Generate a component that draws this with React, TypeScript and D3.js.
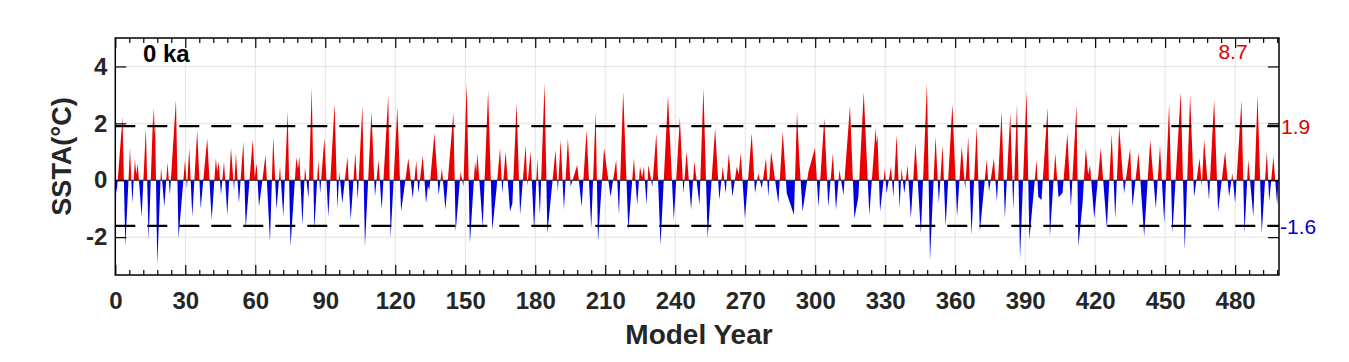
import React, { useEffect, useRef } from 'react';
import * as d3 from 'd3';

// turning points of the SSTA series (model year, °C)
const knotYears = [
  0.0, 0.6, 3.1, 4.3, 6.3, 7.3, 8.4, 9.0, 9.6, 11.3, 13.1, 14.3, 16.3, 16.7, 17.0, 18.0, 19.6, 21.0, 22.4, 23.4,
  26.0, 27.1, 29.9, 30.7, 31.7, 33.0, 35.1, 36.6, 39.4, 41.3, 43.1, 43.7, 44.3, 45.3, 46.6, 48.0, 49.6, 50.9, 51.7, 53.0,
  54.9, 55.9, 58.9, 59.8, 60.6, 61.6, 64.4, 66.3, 67.7, 69.1, 70.6, 72.0, 73.9, 75.1, 77.6, 78.3, 78.9, 80.2, 81.3, 82.8,
  84.2, 85.3, 87.0, 87.8, 89.6, 91.3, 94.0, 95.2, 96.0, 97.3, 99.5, 100.9, 102.9, 103.9, 105.9, 107.0, 109.8, 111.3, 112.8, 114.2,
  117.0, 118.0, 120.9, 122.5, 125.6, 127.5, 129.0, 129.9, 131.8, 133.2, 134.0, 134.6, 136.8, 138.6, 140.0, 141.5, 144.9, 145.9, 148.0, 149.2,
  150.6, 152.0, 154.2, 154.7, 155.2, 157.5, 159.8, 161.6, 163.5, 164.9, 165.9, 167.3, 169.2, 170.2, 172.0, 173.5, 175.9, 176.6, 178.0, 179.5,
  180.9, 182.0, 184.0, 185.2, 188.7, 189.7, 190.9, 192.3, 194.0, 195.2, 198.0, 199.9, 202.0, 204.0, 205.9, 206.9, 209.5, 212.3, 214.7, 215.9,
  217.7, 219.9, 222.3, 223.7, 224.9, 225.8, 226.6, 227.7, 228.5, 230.2, 231.9, 233.7, 236.9, 239.4, 242.0, 243.5, 244.9, 246.8, 248.2, 250.4,
  252.1, 253.9, 257.1, 258.9, 260.4, 261.6, 263.0, 264.5, 266.4, 267.2, 268.1, 269.9, 272.8, 274.2, 275.6, 277.1, 278.9, 279.9, 281.1, 284.2,
  286.1, 287.8, 290.9, 292.2, 293.2, 294.6, 297.1, 299.9, 301.4, 303.9, 305.6, 307.6, 308.9, 310.4, 312.1, 314.9, 316.8, 318.5, 320.8, 323.2,
  325.9, 326.3, 326.7, 327.8, 329.9, 330.6, 332.5, 333.5, 334.9, 336.2, 337.0, 338.2, 339.6, 341.0, 343.0, 345.3, 347.9, 349.2, 351.6, 353.0,
  354.6, 355.9, 358.8, 360.8, 362.8, 364.3, 365.6, 367.0, 369.2, 370.6, 373.5, 374.5, 376.6, 377.9, 379.9, 381.3, 383.6, 384.9, 386.5, 387.8,
  390.6, 391.8, 394.9, 395.6, 397.0, 399.6, 400.6, 402.9, 404.3, 406.0, 408.1, 409.6, 412.0, 412.8, 414.6, 416.0, 417.0, 417.8, 419.6, 422.4,
  425.0, 427.1, 428.6, 430.3, 432.4, 435.0, 436.0, 438.6, 441.0, 443.6, 446.0, 447.8, 449.6, 451.7, 453.1, 456.7, 458.4, 460.7, 462.4, 464.8,
  465.7, 466.7, 468.8, 471.0, 472.7, 475.7, 477.4, 478.8, 480.0, 482.7, 484.0, 485.6, 487.8, 489.6, 491.4, 493.6, 494.6, 496.4, 498.0, 498.8,
];
const knotSSTA = [
  0, -0.46, 2.22, -2.34, 1.13, -0.8, 0.72, 0.2, 0.6, -1.28, 1.83, -2.1, 2.57, 1.6, 2.36, -2.98, 0.46, -0.93, 0.62, -0.52,
  2.83, -2.04, 0.72, -0.3, 1.13, -1.28, 1.75, -0.99, 1.48, -1.4, 0.77, 0.3, 0.66, -0.52, 0.66, -1.22, 1.13, -0.34, 0.95, -0.81,
  1.36, -1.69, 1.42, 0.1, 0.6, -0.93, 0.89, -2.16, 1.54, -1.04, 0.48, -1.28, 2.42, -2.34, 0.8, 0.4, 0.83, -1.57, 0.46, -0.63,
  3.24, -1.75, 0.72, -0.46, 1.48, -1.28, 2.69, -0.99, 0.3, -0.81, 0.83, -1.4, 0.97, -0.69, 2.62, -2.34, 2.42, -0.58, 0.72, -1.04,
  2.97, -2.04, 2.57, -1.1, 0.77, -0.63, 0.69, -0.46, 0.86, -0.81, -0.2, -0.34, 1.65, -0.52, 0.42, -1.04, 2.38, -1.81, 0.3, -0.22,
  3.42, -2.22, 0.66, 0.3, 0.95, -1.63, 3.15, -1.75, -0.22, 1.13, -0.46, 1.01, -1.1, -0.81, 2.71, -1.22, 1.24, -0.2, 1.01, -1.75,
  0.77, -1.22, 3.42, -1.87, 1.07, -0.4, 1.42, -1.04, 1.48, -0.22, 0.54, -0.93, 1.77, -1.69, 2.42, -2.16, 1.13, -0.58, 0.72, -1.22,
  3.12, -1.75, 0.77, -0.87, 0.48, 0.1, 0.48, -0.87, 0.54, -0.22, 1.65, -2.28, 2.97, -1.4, 2.2, -0.46, 1.01, -1.04, 0.66, -0.87,
  3.24, -2.04, 1.83, -0.69, 0.48, -0.46, 0.95, -0.58, 0.48, 0.2, 0.95, -1.34, 1.65, -0.46, 0.25, -0.28, 0.77, -0.58, 1.01, -0.81,
  1.71, -0.46, -1.22, 2.42, 0.72, -1.1, 0.3, 1.13, -0.93, 2.18, -0.93, 0.95, -1.04, 0.36, -0.52, 2.62, -1.34, -0.58, 3.1, -1.22,
  1.83, 1.3, 1.6, -1.1, 0.42, -0.46, 0.48, -0.58, 1.6, -0.99, 0.42, -0.46, 0.54, -1.34, 1.3, -1.87, 3.42, -2.81, 1.54, -0.81,
  1.24, -1.63, 2.69, -1.28, 1.19, -0.3, 1.54, -1.92, 1.87, -1.81, 0.72, -0.4, 0.77, -0.75, 2.42, -1.34, 2.36, -1.04, 2.69, -2.75,
  3.15, -2.1, 0.72, -0.58, -0.69, 2.56, -1.98, 0.95, -0.6, -0.45, 1.65, -0.93, 2.65, -2.34, -0.81, 1.13, 0.2, 0.54, -1.34, 1.13,
  -1.69, 1.63, -1.34, 1.89, -0.46, 1.13, -0.93, 0.97, -1.98, 1.42, -0.99, 1.21, -1.51, 2.69, -1.87, 3.1, -2.45, 2.98, -0.58, 0.77,
  -0.22, 1.42, -0.69, 2.83, -1.1, 1.01, -0.58, 0.25, -0.81, 2.81, -1.87, 0.72, -1.28, 3.0, -1.87, 1.01, -0.75, 0.83, -0.87, 0.36,
];

const xTicks = [0, 30, 60, 90, 120, 150, 180, 210, 240, 270, 300, 330, 360, 390, 420, 450, 480];
const yTicks = [-2, 0, 2, 4];
const warmThreshold = 1.9;
const coldThreshold = -1.6;
const variance = '8.7';
const periodLabel = '0 ka';

const W = 1349;
const H = 362;
const box = { left: 115.3, right: 1279, top: 38, bottom: 275 };
const font = '"Liberation Sans", Arial, Helvetica, sans-serif';

const App = () => {
  const ref = useRef<SVGSVGElement>(null);

  useEffect(() => {
    const svg = d3.select(ref.current);
    svg.selectAll('*').remove();

    const x = d3.scaleLinear().domain([0, 498.8]).range([box.left, box.right]);
    const y = d3.scaleLinear().domain([-3.33, 5]).range([box.bottom, box.top]);
    const pts: [number, number][] = knotYears.map((yr, i) => [yr, knotSSTA[i]]);

    // grid
    const grid = svg.append('g').attr('stroke', '#e3e3e3').attr('stroke-width', 1);
    xTicks.slice(1).forEach((t) => {
      grid.append('line').attr('x1', x(t)).attr('x2', x(t)).attr('y1', box.top).attr('y2', box.bottom);
    });
    yTicks.forEach((t) => {
      grid.append('line').attr('x1', box.left).attr('x2', box.right).attr('y1', y(t)).attr('y2', y(t));
    });

    const defs = svg.append('defs');
    defs.append('clipPath').attr('id', 'above')
      .append('rect').attr('x', box.left).attr('y', box.top)
      .attr('width', box.right - box.left).attr('height', y(0) - box.top);
    defs.append('clipPath').attr('id', 'below')
      .append('rect').attr('x', box.left).attr('y', y(0))
      .attr('width', box.right - box.left).attr('height', box.bottom - y(0));

    const area = d3.area<[number, number]>()
      .x((d) => x(d[0]))
      .y0(y(0))
      .y1((d) => y(d[1]));

    svg.append('path').attr('d', area(pts)).attr('fill', '#ea0000').attr('clip-path', 'url(#above)');
    svg.append('path').attr('d', area(pts)).attr('fill', '#0000e0').attr('clip-path', 'url(#below)');

    svg.append('line')
      .attr('x1', box.left).attr('x2', box.right).attr('y1', y(0)).attr('y2', y(0))
      .attr('stroke', '#222').attr('stroke-width', 1);

    // threshold lines
    [warmThreshold, coldThreshold].forEach((v) => {
      svg.append('line')
        .attr('x1', box.left).attr('x2', box.right).attr('y1', y(v)).attr('y2', y(v))
        .attr('stroke', '#000').attr('stroke-width', 2.2)
        .attr('stroke-dasharray', '20,12');
    });

    // axes with inward ticks
    const plain = (d: d3.NumberValue) => String(d);
    const minor = d3.range(0, 499, 6).filter((t) => t % 30 !== 0);
    const bottom = svg.append('g').attr('transform', `translate(0,${box.bottom})`)
      .call(d3.axisBottom(x).tickValues(xTicks).tickSize(-10).tickPadding(17).tickFormat(plain));
    svg.append('g').attr('transform', `translate(0,${box.top})`)
      .call(d3.axisTop(x).tickValues(xTicks).tickSize(-10).tickFormat(() => ''));
    svg.append('g').attr('transform', `translate(0,${box.bottom})`)
      .call(d3.axisBottom(x).tickValues(minor).tickSize(-5).tickFormat(() => ''));
    svg.append('g').attr('transform', `translate(0,${box.top})`)
      .call(d3.axisTop(x).tickValues(minor).tickSize(-5).tickFormat(() => ''));
    const left = svg.append('g').attr('transform', `translate(${box.left},0)`)
      .call(d3.axisLeft(y).tickValues(yTicks).tickSize(-11).tickPadding(8).tickFormat(plain));
    svg.append('g').attr('transform', `translate(${box.right},0)`)
      .call(d3.axisRight(y).tickValues(yTicks).tickSize(-11).tickFormat(() => ''));

    svg.selectAll('.domain').remove();
    svg.selectAll('.tick line').attr('stroke', '#000').attr('stroke-width', 1.2);
    [bottom, left].forEach((g) => {
      g.selectAll('text')
        .attr('font-family', font).attr('font-size', 24).attr('font-weight', 'bold').attr('fill', '#262626');
    });

    svg.append('rect')
      .attr('x', box.left).attr('y', box.top)
      .attr('width', box.right - box.left).attr('height', box.bottom - box.top)
      .attr('fill', 'none').attr('stroke', '#000').attr('stroke-width', 1.5);

    // labels
    svg.append('text')
      .attr('x', 699).attr('y', 344)
      .attr('text-anchor', 'middle').attr('font-family', font)
      .attr('font-size', 28).attr('font-weight', 'bold').attr('fill', '#262626')
      .text('Model Year');
    svg.append('text')
      .attr('transform', `translate(71,${(box.top + box.bottom) / 2}) rotate(-90)`)
      .attr('text-anchor', 'middle').attr('font-family', font)
      .attr('font-size', 27).attr('font-weight', 'bold').attr('fill', '#262626')
      .text('SSTA(°C)');
    svg.append('text')
      .attr('x', 143).attr('y', 62)
      .attr('font-family', font).attr('font-size', 24).attr('font-weight', 'bold').attr('fill', '#000')
      .text(periodLabel);
    svg.append('text')
      .attr('x', 1233).attr('y', 52).attr('dy', '0.35em')
      .attr('text-anchor', 'middle').attr('font-family', font).attr('font-size', 21).attr('fill', '#e00000')
      .text(variance);
    svg.append('text')
      .attr('x', 1281).attr('y', y(warmThreshold)).attr('dy', '0.35em')
      .attr('font-family', font).attr('font-size', 21).attr('fill', '#e00000')
      .text(String(warmThreshold));
    svg.append('text')
      .attr('x', 1280).attr('y', y(coldThreshold) + 1).attr('dy', '0.35em')
      .attr('font-family', font).attr('font-size', 21).attr('fill', '#0000d0')
      .text(String(coldThreshold));
  }, []);

  return (
    <svg
      ref={ref}
      width={W}
      height={H}
      style={{ position: 'absolute', left: 0, top: 0, background: '#fff' }}
    />
  );
};

export default App;
